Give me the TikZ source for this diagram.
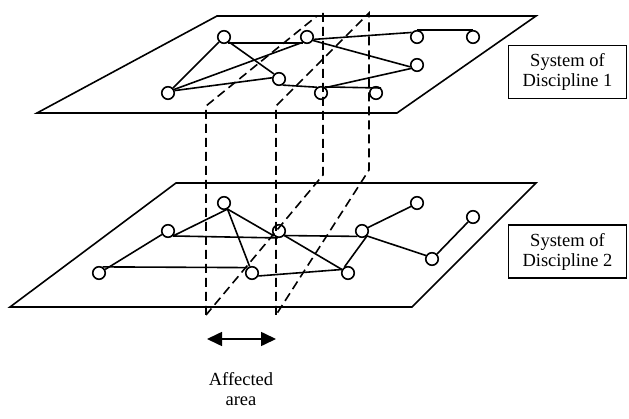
\documentclass[tikz,border=0pt]{standalone}
\usepackage{fontspec}
\setmainfont{Liberation Serif}
\usetikzlibrary{arrows.meta}

\begin{document}
\begin{tikzpicture}[x=1pt,y=-1pt,line width=1.6pt,
    dot/.style={circle,draw,inner sep=0pt,minimum size=12.5pt},
    cut/.style={dash pattern=on 9pt off 5pt},
    txt/.style={align=center,font=\fontsize{18.5}{20}\selectfont},
    sysbox/.style={txt,draw,minimum width=118pt,minimum height=53pt}]
    \useasboundingbox (0,0) rectangle (629,419);

    % the two planes
    \draw (217,16) -- (536,16) -- (397,113) -- (37,113) -- cycle;
    \draw (176,183) -- (536,183) -- (412,307) -- (10,307) -- cycle;

    % affected area
    \draw[cut] (206,315) -- (206,106) -- (317,16);
    \draw[cut] (323,13) -- (323,175) -- (206,315);
    \draw[cut] (276,315) -- (276,106) -- (369,13) -- (369,170) -- (276,315);

    % discipline 1
    \foreach \n/\x/\y in {A/224/37, B/307/37, C/417/37, D/473/37, E/417/65,
                          F/279/79, G/168/93, H/321/93, I/376/93}
        \node[dot] (\n) at (\x,\y) {};
    \foreach \p/\q in {A.-60/B.-120, A.-135/G.45, A.-45/F.135, B.-130/G.30,
                       G.20/F.170, B.-20/C.140, C.north/D.north, B.-30/E.195,
                       E.210/H.50, F.-60/H.125, H.60/I.45}
        \draw (\p) -- (\q);

    % discipline 2
    \foreach \n/\x/\y in {a/224/203, b/168/231, c/279/231, d/362/231, e/417/203,
                          f/473/217, g/99/273, h/252/273, i/348/273, j/432/259}
        \node[dot] (\n) at (\x,\y) {};
    \foreach \p/\q in {b.-45/a.-60, b.-150/g.30, b.-45/c.-100, a.-60/c.-135,
                       a.-60/h.110, c.-40/d.-130, c.-40/i.150, g.60/h.130,
                       h.-25/i.150, i.120/d.-45, d.30/e.-150, d.-45/j.150,
                       j.45/f.-135}
        \draw (\p) -- (\q);

    \node[sysbox] (sys1) at (567.5,72) {System of\\Discipline 1};
    \node[sysbox] (sys2) at (567.5,251.5) {System of\\Discipline 2};

    \coordinate (wl) at (207,339);
    \coordinate (wr) at (276,339);
    \draw[{Triangle[length=15pt,width=14pt]}-{Triangle[length=15pt,width=14pt]}] (wl) -- (wr);
    \node[txt] (area) at (241,389) {Affected\\area};
\end{tikzpicture}
\end{document}
